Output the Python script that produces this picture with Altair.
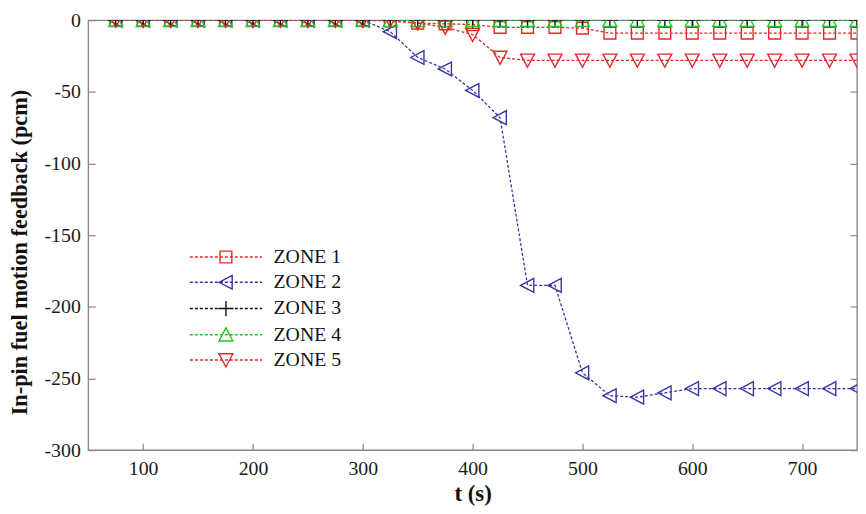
import altair as alt
import pandas as pd

# ---------------- data ----------------
t = [75, 100, 125, 150, 175, 200, 225, 250, 275, 300,
     325, 350, 375, 400, 425, 450, 475, 500, 525, 550,
     575, 600, 625, 650, 675, 700, 725, 750]

zone1 = [0, 0, 0, 0, 0, 0, 0, 0, 0, 0,
         -0.5, -2, -2.5, -3, -5, -5, -5, -5.5, -9, -9,
         -9, -9, -9, -9, -9, -9, -9, -9]
zone2 = [0, 0, 0, 0, 0, 0, 0, 0, 0, 0,
         -8, -26, -34, -49, -68, -185, -185, -246, -262, -263,
         -260, -257, -257, -257, -257, -257, -257, -257]
zone3 = [0] * 28
zone4 = [0] * 28
zone5 = [0, 0, 0, 0, 0, 0, 0, 0, 0, 0,
         0, -2, -5, -10, -26, -28, -28, -28, -28, -28,
         -28, -28, -28, -28, -28, -28, -28, -28]

zones = ["ZONE 1", "ZONE 2", "ZONE 3", "ZONE 4", "ZONE 5"]
colors = ["#e02828", "#3535a8", "#111111", "#22c322", "#e02828"]

x_ticks = [100, 200, 300, 400, 500, 600, 700]
y_ticks = [-300, -250, -200, -150, -100, -50, 0]

rows = []
for name, vals in zip(zones, [zone1, zone2, zone3, zone4, zone5]):
    for ti, v in zip(t, vals):
        rows.append({"t": ti, "v": v, "zone": name})
df = pd.DataFrame(rows)

# ---------------- styles ----------------
SERIF = "Liberation Serif"
W, H = 776, 434

sq = "M-0.85,-0.85L0.85,-0.85L0.85,0.85L-0.85,0.85Z"
tl = "M-1,0L0.9,-1L0.9,1Z"
plus = "M-1.1,0L1.1,0M0,-1.1L0,1.1"
tu = "M0,-1L1,0.9L-1,0.9Z"
td = "M0,1L1,-0.9L-1,-0.9Z"
marker_paths = [sq, tl, plus, tu, td]


def dashes(x0=-5.2, x1=5.2, on=0.43, off=0.29):
    parts = []
    x = x0
    while x < x1:
        parts.append(f"M{x:.2f},0L{min(x + on, x1):.2f},0")
        x += on + off
    return "".join(parts)


legend_paths = [dashes() + m for m in marker_paths]

xscale = alt.Scale(domain=[50, 750], nice=False, zero=False)
yscale = alt.Scale(domain=[-300, 0], nice=False, zero=False)


def cscale():
    return alt.Scale(domain=zones, range=colors)


tick_style = dict(labels=False, domain=False, grid=False, ticks=True,
                  tickSize=7, tickColor="#888888", tickWidth=1.2)

LABEL_EXPR = "'' + datum.value"

ax_x_main = alt.Axis(orient="bottom", values=x_ticks, ticks=False, tickSize=0,
                     domain=False, grid=False, labelFont=SERIF, labelFontSize=20,
                     labelColor="#1a1a1a", labelPadding=9, labelExpr=LABEL_EXPR,
                     title="t (s)", titleFont=SERIF, titleFontSize=23,
                     titleFontWeight="bold", titleColor="#111111", titleY=51,
                     titleBaseline="alphabetic")
ax_y_main = alt.Axis(orient="left", values=y_ticks, ticks=False, tickSize=0,
                     domain=False, grid=False, labelFont=SERIF, labelFontSize=20,
                     labelColor="#1a1a1a", labelPadding=8, labelExpr=LABEL_EXPR,
                     title="In-pin fuel motion feedback (pcm)", titleFont=SERIF,
                     titleFontSize=22.5, titleFontWeight="bold", titleColor="#111111",
                     titleX=-62, titleY=H / 2 + 17, titleAngle=270, titleAlign="center",
                     titleBaseline="alphabetic")

lines = alt.Chart(df).mark_line(strokeDash=[3, 2], strokeWidth=1.3, clip=True).encode(
    x=alt.X("t:Q", scale=xscale, axis=ax_x_main),
    y=alt.Y("v:Q", scale=yscale, axis=ax_y_main),
    color=alt.Color("zone:N", scale=cscale(), legend=None),
    detail="zone:N",
)

points = alt.Chart(df).mark_point(filled=False, size=196, strokeWidth=1.4,
                                  opacity=1, clip=True).encode(
    x=alt.X("t:Q", scale=xscale,
            axis=alt.Axis(orient="top", offset=-H, values=x_ticks, title=None, **tick_style)),
    y=alt.Y("v:Q", scale=yscale,
            axis=alt.Axis(orient="right", offset=-W, values=y_ticks, title=None, **tick_style)),
    color=alt.Color("zone:N", scale=cscale(), legend=None),
    shape=alt.Shape("zone:N", scale=alt.Scale(domain=zones, range=marker_paths), legend=None),
)

leg = alt.Legend(orient="none", legendX=129, legendY=229, title=None, padding=0,
                 labelFont=SERIF, labelFontSize=20, labelColor="#111111",
                 labelOffset=38, rowPadding=5.5, symbolSize=196, symbolStrokeWidth=1.4,
                 direction="vertical")

legend_layer = alt.Chart(df).transform_filter("datum.t < 0").mark_point(
    filled=False, size=196, strokeWidth=1.4, opacity=1).encode(
    x=alt.X("t:Q", scale=xscale,
            axis=alt.Axis(orient="bottom", offset=-H, values=x_ticks, title=None, **tick_style)),
    y=alt.Y("v:Q", scale=yscale,
            axis=alt.Axis(orient="left", offset=-W, values=y_ticks, title=None, **tick_style)),
    color=alt.Color("zone:N", scale=cscale(), legend=leg),
    shape=alt.Shape("zone:N", scale=alt.Scale(domain=zones, range=legend_paths), legend=leg),
)

chart = alt.layer(lines, points, legend_layer).resolve_scale(
    shape="independent", color="independent"
).resolve_axis(
    x="independent", y="independent"
).properties(
    width=W, height=H,
    autosize=alt.AutoSizeParams(type="none"),
    padding={"left": 81, "top": 10, "right": 1, "bottom": 56},
    background="white",
).configure_view(
    stroke="#888888", strokeWidth=1.4
)

chart.save("out.html", embed_options={"renderer": "svg", "actions": False})
